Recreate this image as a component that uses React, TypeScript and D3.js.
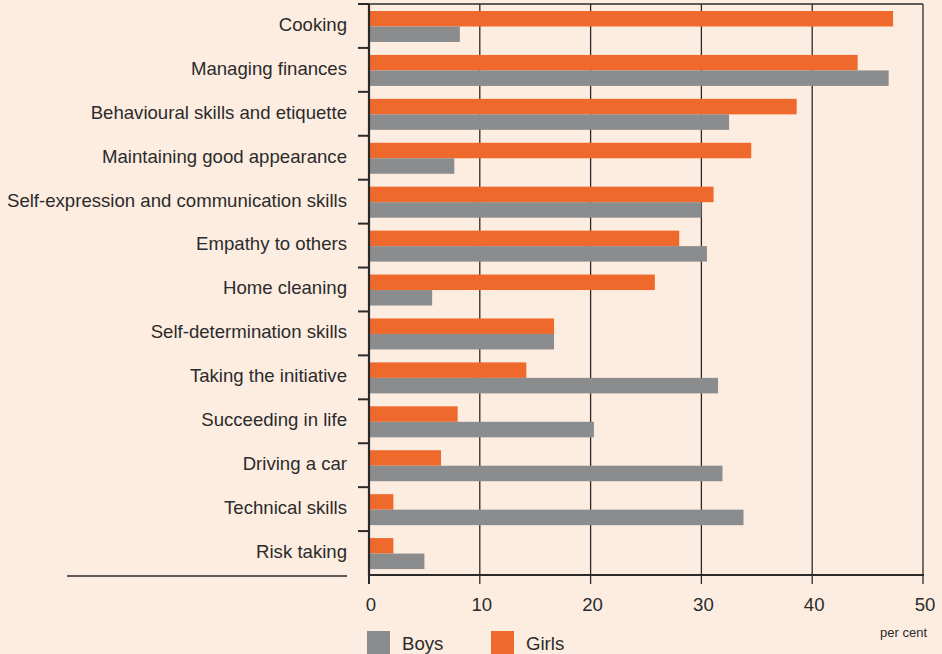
import React from "react";
import * as d3 from "d3";

const categories = [
  "Cooking",
  "Managing finances",
  "Behavioural skills and etiquette",
  "Maintaining good appearance",
  "Self-expression and communication skills",
  "Empathy to others",
  "Home cleaning",
  "Self-determination skills",
  "Taking the initiative",
  "Succeeding in life",
  "Driving a car",
  "Technical skills",
  "Risk taking",
];
const girls = [47.3, 44.1, 38.6, 34.5, 31.1, 28.0, 25.8, 16.7, 14.2, 8.0, 6.5, 2.2, 2.2];
const boys = [8.2, 46.9, 32.5, 7.7, 30.0, 30.5, 5.7, 16.7, 31.5, 20.3, 31.9, 33.8, 5.0];
const xTicks = [0, 10, 20, 30, 40, 50];

const W = 942;
const H = 654;
const BG = "#fdede1";
const ORANGE = "#f0692c";
const GRAY = "#8b8c8e";
const TEXT = "#2b2b2b";
const FONT = "Arial, 'Liberation Sans', Helvetica, sans-serif";

export default function App() {
  const x = d3.scaleLinear().domain([0, 50]).range([369, 923]);
  const y = d3.scaleBand<string>().domain(categories).range([4, 575]);
  const bw = y.bandwidth();
  const barH = 15.5;
  const top = 7;

  return (
    <svg
      width={W}
      height={H}
      style={{ position: "absolute", left: 0, top: 0, background: BG }}
      fontFamily={FONT}
    >
      <rect x={0} y={0} width={W} height={H} fill={BG} />
      {xTicks.slice(1).map((t) => (
        <line key={"g" + t} x1={x(t)} x2={x(t)} y1={4} y2={584} stroke="#2a2a2a" strokeWidth={1.3} />
      ))}
      {categories.map((c, i) => (
        <g key={c}>
          <rect x={x(0)} y={(y(c) as number) + top} width={x(girls[i]) - x(0)} height={barH} fill={ORANGE} />
          <rect x={x(0)} y={(y(c) as number) + top + barH} width={x(boys[i]) - x(0)} height={barH} fill={GRAY} />
          <text
            x={347}
            y={(y(c) as number) + bw / 2}
            textAnchor="end"
            dominantBaseline="middle"
            fontSize={18.6}
            fill={TEXT}
          >
            {c}
          </text>
        </g>
      ))}
      {categories.map((c) => (
        <line key={"t" + c} x1={358} x2={369} y1={y(c) as number} y2={y(c) as number} stroke="#2a2a2a" strokeWidth={2} />
      ))}
      <line x1={358} x2={923} y1={4} y2={4} stroke="#2a2a2a" strokeWidth={1.3} />
      <line x1={369} x2={369} y1={4} y2={576} stroke="#2a2a2a" strokeWidth={2.2} />
      <line x1={368} x2={924} y1={575} y2={575} stroke="#2a2a2a" strokeWidth={2.2} />
      <line x1={x(0)} x2={x(0)} y1={575} y2={584} stroke="#2a2a2a" strokeWidth={2} />
      <line x1={67} x2={347} y1={576} y2={576} stroke="#2a2a2a" strokeWidth={1.3} />
      {xTicks.map((t) => (
        <text key={"l" + t} x={x(t) + 2} y={611} textAnchor="middle" fontSize={18.6} fill={TEXT}>
          {t}
        </text>
      ))}
      <text x={927} y={637} textAnchor="end" fontSize={13} fill={TEXT}>
        per cent
      </text>
      <rect x={367} y={631} width={23} height={24} fill={GRAY} />
      <text x={402} y={650} fontSize={18.6} fill={TEXT}>Boys</text>
      <rect x={491} y={631} width={23} height={24} fill={ORANGE} />
      <text x={526} y={650} fontSize={18.6} fill={TEXT}>Girls</text>
    </svg>
  );
}
